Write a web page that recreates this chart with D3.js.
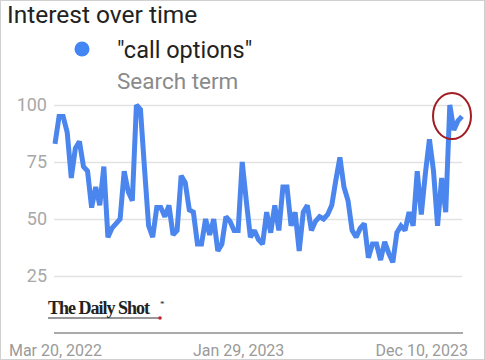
<!DOCTYPE html>
<html><head><meta charset="utf-8">
<script src="https://cdn.jsdelivr.net/npm/d3@7"></script>
<style>html,body{margin:0;padding:0;background:#fff;}svg{display:block;}</style>
</head><body>
<script>
const startDate = "2022-03-20";
const values = [83, 95, 95, 88, 68, 81, 84, 73, 71, 55, 64, 56, 73, 42, 46, 48, 50,
  71, 62, 58, 100, 98, 72, 47, 42, 55, 55, 51, 56, 43, 45, 69, 66, 54, 53, 39, 39, 50, 43, 50, 36, 39, 51, 49, 45, 45,
  75, 58, 42, 45, 41, 39, 53, 44, 56, 45, 64, 64, 47, 53, 36, 53, 56, 45, 49, 51, 50,
  52, 56, 67, 77, 64, 58, 45, 42, 46, 48, 33, 39, 39, 32, 40, 35, 31,
  44, 47, 45, 53, 47, 71, 52, 70, 85, 71, 47, 68, 53, 100, 89, 93, 95];
const yTicks = [25, 50, 75, 100];
const xTickLabels = ["Mar 20, 2022", "Jan 29, 2023", "Dec 10, 2023"];
const seriesName = "\"call options\"";

const W = 485, H = 360;
const parse = d3.timeParse("%Y-%m-%d");
const t0 = parse(startDate);
const data = values.map((v, i) => ({date: d3.timeWeek.offset(t0, i), v}));

const svg = d3.select("body").append("svg").attr("width", W).attr("height", H);
svg.append("rect").attr("x", 0.5).attr("y", 0.5).attr("width", W - 1).attr("height", H - 1)
  .attr("fill", "#fff").attr("stroke", "#d0d0d0");

const x = d3.scaleTime().domain(d3.extent(data, d => d.date)).range([55, 462]);
const y = d3.scaleLinear().domain([0, 100]).range([333, 105]);

// title & legend
svg.append("text").attr("x", 7).attr("y", 23).attr("font-family", "Roboto").attr("font-size", 24.5)
  .attr("fill", "#222").text("Interest over time");
svg.append("circle").attr("cx", 82).attr("cy", 49).attr("r", 7.5).attr("fill", "#4285f4");
svg.append("text").attr("x", 117).attr("y", 58).attr("font-family", "Roboto").attr("font-size", 23.5)
  .attr("fill", "#222").text(seriesName);
svg.append("text").attr("x", 117).attr("y", 89).attr("font-family", "Roboto").attr("font-size", 22.5)
  .attr("fill", "#8a8a8a").text("Search term");

// grid + y labels
const yAxis = d3.axisLeft(y).tickValues(yTicks).tickSize(-(462 - 54)).tickPadding(7);
const gy = svg.append("g").attr("transform", "translate(54,0)").call(yAxis);
gy.select(".domain").remove();
gy.selectAll(".tick line").attr("stroke", "#e2e2e2").attr("stroke-width", 1.5);
gy.selectAll(".tick text").attr("font-family", "Roboto").attr("font-size", 18).attr("fill", "#a8a8a8");

// x axis
const fmt = d3.timeFormat("%b %d, %Y");
const xTicks = xTickLabels.map(s => d3.timeParse("%b %d, %Y")(s));
const xAxis = d3.axisBottom(x).tickValues(xTicks).tickFormat(fmt).tickSize(0).tickPadding(12);
const gx = svg.append("g").attr("transform", "translate(0,333)").call(xAxis);
gx.select(".domain").attr("d", "M54,0H463").attr("stroke", "#aaa").attr("stroke-width", 2);
gx.selectAll(".tick text").attr("font-family", "Roboto").attr("font-size", 16).attr("fill", "#9a9a9a");

// line
const line = d3.line().x(d => x(d.date)).y(d => y(d.v));
svg.append("path").datum(data).attr("d", line).attr("fill", "none")
  .attr("stroke", "#4a86ee").attr("stroke-width", 5).attr("stroke-linejoin", "miter")
  .attr("stroke-miterlimit", 2);

// annotation circle
svg.append("ellipse").attr("cx", 452).attr("cy", 116).attr("rx", 19).attr("ry", 23)
  .attr("fill", "none").attr("stroke", "#a31d24").attr("stroke-width", 2);

// logo
const logo = svg.append("g");
logo.append("text").attr("x", 48).attr("y", 314).attr("font-family", "Liberation Serif")
  .attr("font-weight", "bold").attr("font-size", 18).attr("letter-spacing", -1)
  .attr("fill", "#222").text("The Daily Shot");
logo.append("line").attr("x1", 48).attr("x2", 160).attr("y1", 318).attr("y2", 318)
  .attr("stroke", "#333").attr("stroke-width", 1.2);
logo.append("circle").attr("cx", 160).attr("cy", 318).attr("r", 1.8).attr("fill", "#c0262d");
logo.append("text").attr("x", 160).attr("y", 307).attr("font-family", "Liberation Serif")
  .attr("font-size", 9).attr("fill", "#222").text("*");
</script>
</body></html>
